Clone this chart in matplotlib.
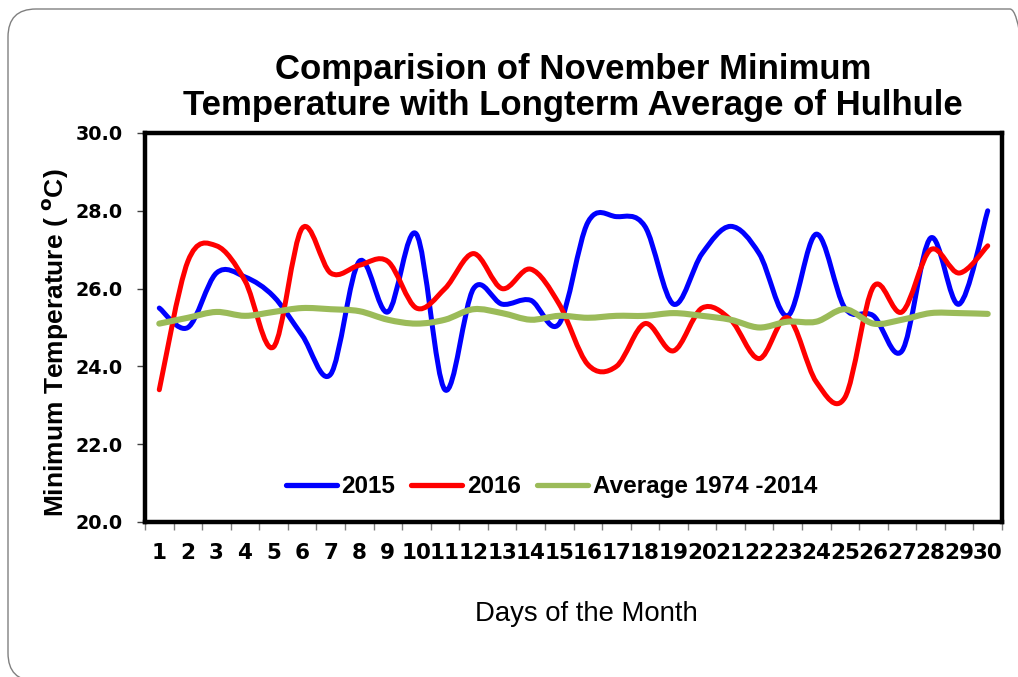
import numpy as np
import matplotlib
matplotlib.use("Agg")
import matplotlib.pyplot as plt
from matplotlib.path import Path
from matplotlib.patches import PathPatch, FancyBboxPatch
from matplotlib.lines import Line2D
from matplotlib.transforms import IdentityTransform

days = list(range(1, 31))
t2015 = [25.5, 25.0, 26.4, 26.3, 25.8, 24.8, 23.8, 26.7, 25.4, 27.4,
         23.4, 26.0, 25.6, 25.7, 25.1, 27.7, 27.85, 27.6, 25.6, 26.9,
         27.6, 26.9, 25.3, 27.4, 25.5, 25.3, 24.4, 27.3, 25.6, 28.0]
t2016 = [23.4, 26.7, 27.1, 26.2, 24.5, 27.55, 26.4, 26.6, 26.7, 25.5,
         26.0, 26.9, 26.0, 26.5, 25.6, 24.05, 24.0, 25.1, 24.4, 25.5,
         25.2, 24.2, 25.25, 23.6, 23.2, 26.05, 25.4, 27.0, 26.4, 27.1]
avg = [25.1, 25.25, 25.4, 25.3, 25.4, 25.5, 25.47, 25.42, 25.2, 25.1,
       25.2, 25.47, 25.37, 25.2, 25.3, 25.25, 25.3, 25.3, 25.37, 25.3,
       25.2, 25.0, 25.15, 25.15, 25.47, 25.1, 25.2, 25.37, 25.37, 25.35]
series_labels = ["2015", "2016", "Average 1974 -2014"]
series_colors = ["#0000FF", "#FF0000", "#9BBB59"]
yticks = [20, 22, 24, 26, 28, 30]


def smooth_path(x, y):
    """Excel-like smoothed line as cubic Bezier (Catmull-Rom control points)."""
    p = np.column_stack([x, y]).astype(float)
    n = len(p)
    verts = [p[0]]
    codes = [Path.MOVETO]
    for i in range(n - 1):
        p0 = p[i - 1] if i > 0 else p[i]
        p1 = p[i]
        p2 = p[i + 1]
        p3 = p[i + 2] if i + 2 < n else p[i + 1]
        c1 = p1 + (p2 - p0) / 6.0
        c2 = p2 - (p3 - p1) / 6.0
        verts += [c1, c2, p2]
        codes += [Path.CURVE4] * 3
    return Path(verts, codes)


fig = plt.figure(figsize=(10.18, 6.77), dpi=100)
fig.patch.set_facecolor("white")
W, H = 1018, 677
ax = fig.add_axes([145 / W, 1 - 522 / H, 857 / W, 389 / H])

widths = [3.6, 3.6, 4.4]
for vals, col, lw, z in zip([t2015, t2016, avg], series_colors, widths, [3, 4, 5]):
    pp = PathPatch(smooth_path(days, vals), fill=False, edgecolor=col, lw=lw,
                   capstyle="round", joinstyle="round", zorder=z)
    ax.add_patch(pp)

ax.set_xlim(0.5, 30.5)
ax.set_ylim(20, 30)

for s in ax.spines.values():
    s.set_linewidth(3.2)
    s.set_color("black")

# y axis
ax.set_yticks(yticks)
ax.set_yticklabels([f"{v:.1f}" for v in yticks])
ax.tick_params(axis="y", direction="out", length=6, width=1, color="#404040",
               pad=10, labelsize=13.8, labelcolor="black")
for lab in ax.get_yticklabels():
    lab.set_fontfamily("DejaVu Sans")
    lab.set_fontweight("bold")

# x axis: boundary ticks (major) and labels at categories (minor)
ax.set_xticks(np.arange(0.5, 31, 1.0))
ax.set_xticklabels([])
ax.set_xticks(days, minor=True)
ax.set_xticklabels([str(d) for d in days], minor=True)
ax.tick_params(axis="x", which="major", direction="out", length=6, width=1,
               color="#808080")
ax.tick_params(axis="x", which="minor", length=0, pad=15, labelsize=15.5)
for lab in ax.get_xticklabels(minor=True):
    lab.set_fontfamily("DejaVu Sans")
    lab.set_fontweight("bold")

# legend
handles = [Line2D([], [], color=c, lw=3.8, solid_capstyle="round") for c in series_colors]
leg = ax.legend(handles, series_labels, loc="center", bbox_to_anchor=(0.474, 0.09),
                ncol=3, frameon=False, handlelength=2.1, handletextpad=0.2,
                columnspacing=0.65,
                prop={"family": "Liberation Sans", "weight": "bold", "size": 17.5})

# titles and labels
fig.text(573 / W, 1 - 87.5 / H,
         "Comparision of November Minimum\nTemperature with Longterm Average of Hulhule",
         ha="center", va="center", fontsize=25, fontweight="bold",
         family="Liberation Sans", linespacing=1.1)
fig.text(586 / W, 1 - 614 / H, "Days of the Month", ha="center", va="center",
         fontsize=19.8, family="Liberation Sans")
fig.text(55 / W, 1 - 343 / H, r"Minimum Temperature ( $^{\mathbf{o}}$C)",
         ha="center", va="center", rotation=90, fontsize=19, fontweight="bold",
         family="Liberation Sans")

# rounded outer border
border = FancyBboxPatch((8, -4), 1030, 677 - 9 + 4,
                        boxstyle="round,pad=0,rounding_size=28",
                        transform=IdentityTransform(), fill=False,
                        edgecolor="#808080", lw=1.0)
fig.patches.append(border)

fig.savefig("out.png", dpi=100, facecolor="white")
